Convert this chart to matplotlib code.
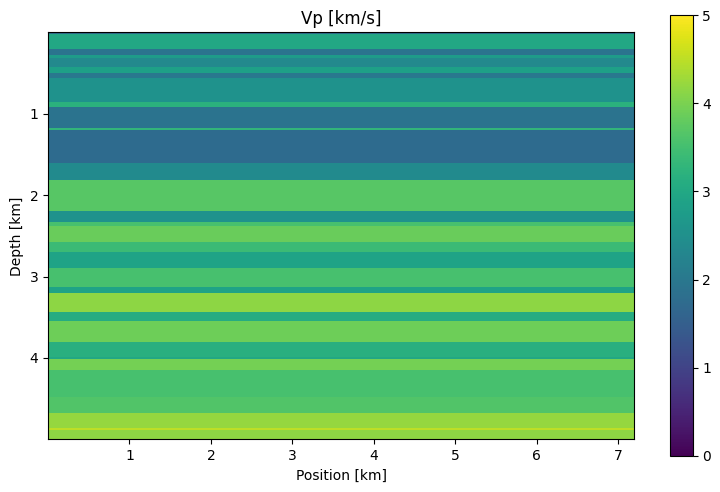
import numpy as np
import matplotlib
matplotlib.use("Agg")
import matplotlib.pyplot as plt

# layer tops (km) and Vp (km/s), read top to bottom
layer_top = [0.00, 0.04, 0.22, 0.30, 0.33, 0.44, 0.52, 0.57, 0.87, 0.93,
             1.19, 1.21, 1.62, 1.83, 2.20, 2.34, 2.39, 2.58, 2.71, 2.91,
             3.14, 3.21, 3.44, 3.55, 3.81, 4.00, 4.02, 4.16, 4.49, 4.68,
             4.86, 4.89]
layer_vp = [1.85, 3.0, 1.9, 2.75, 2.35, 2.85, 2.0, 2.55, 3.2, 1.9,
            3.3, 1.75, 2.4, 3.7, 2.55, 3.55, 3.85, 3.4, 2.9, 3.55,
            2.9, 4.15, 3.1, 3.9, 3.15, 3.0, 3.95, 3.55, 3.65, 4.2,
            4.5, 4.15]

x_max = 7.2
z_max = 5.0
dz = 0.005

z = np.arange(0, z_max, dz) + dz / 2
idx = np.searchsorted(layer_top, z, side="right") - 1
vp_col = np.array(layer_vp)[idx]
model = np.tile(vp_col[:, None], (1, 4))

fig = plt.figure(figsize=(7.2, 4.92), dpi=100)
ax = fig.add_axes([0.0667, 0.107, 0.8143, 0.8273])
cax = fig.add_axes([0.9306, 0.0732, 0.0315, 0.896])

im = ax.imshow(model, cmap="viridis", vmin=0, vmax=5, aspect="auto",
               extent=[0, x_max, z_max, 0], interpolation="nearest")
ax.set_xticks([1, 2, 3, 4, 5, 6, 7])
ax.set_yticks([1, 2, 3, 4])
ax.set_xlabel("Position [km]")
ax.set_ylabel("Depth [km]")
ax.set_title("Vp [km/s]")

fig.colorbar(im, cax=cax, ticks=[0, 1, 2, 3, 4, 5])

fig.savefig("out.png", dpi=100)
